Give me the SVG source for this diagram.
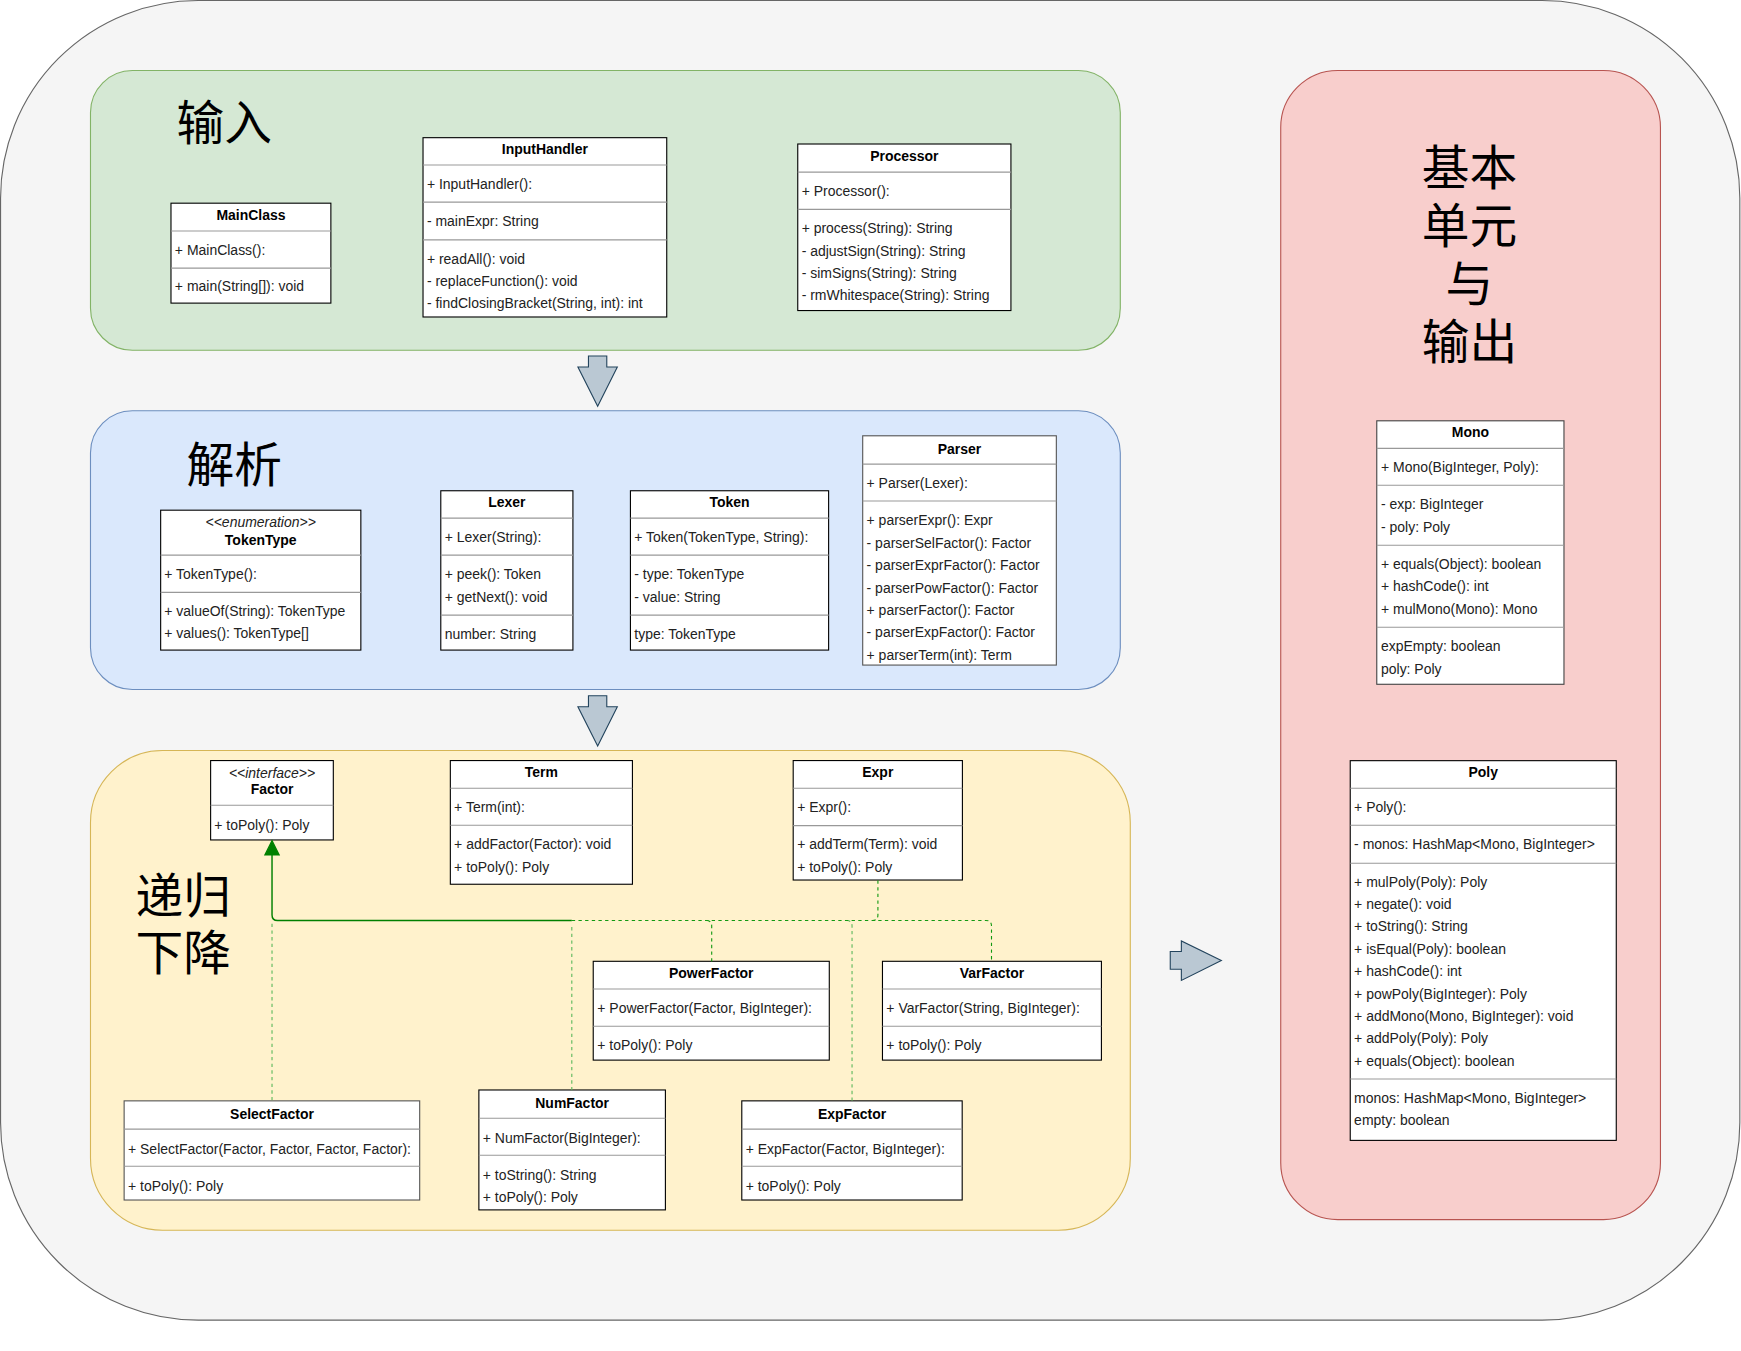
<svg xmlns="http://www.w3.org/2000/svg" width="1741" height="1351" viewBox="0 0 1741 1351">
<defs>
<style>
.box{fill:#ffffff;stroke:#000000;stroke-width:1}
.sep{stroke:#999999;stroke-width:1;fill:none}
.t{font-family:"Liberation Sans",Arial,Helvetica,sans-serif;font-size:12.6px;fill:#222222}
.h{font-weight:bold;text-anchor:middle;fill:#000000}
.st{font-style:italic;text-anchor:middle}
.cjk{font-family:"Noto Sans CJK SC","Noto Sans CJK JP",sans-serif;font-size:43px;fill:#000000}
.blk{fill:#bac8d3;stroke:#23445d;stroke-width:1}
.dk{fill:none;stroke:#119911;stroke-width:1;stroke-dasharray:3 3}
.lt{fill:none;stroke:#5cb85c;stroke-width:1;stroke-dasharray:3 3}
.sol{fill:none;stroke:#008000;stroke-width:1.3}
</style>
</defs>
<g transform="scale(1.1103)">
<g id="frame">
<rect x="0.5" y="0.5" width="1566.5" height="1188.5" rx="178" ry="178" fill="#f5f5f5" stroke="#666666" stroke-width="1"/>
</g>
<g id="panel-input">
<rect x="81.5" y="63.5" width="927.5" height="252" rx="37.8" ry="37.8" fill="#d5e8d4" stroke="#82b366"/>
<text class="cjk" x="159" y="126">输入</text>
</g>
<g id="panel-parse">
<rect x="81.5" y="370" width="927.5" height="251" rx="37.7" ry="37.7" fill="#dae8fc" stroke="#6c8ebf"/>
<text class="cjk" x="168" y="434.5">解析</text>
</g>
<g id="panel-recursive">
<rect x="81.5" y="676" width="936.5" height="432" rx="64.8" ry="64.8" fill="#fff2cc" stroke="#d6b656"/>
<text class="cjk" x="122" y="822"><tspan x="122" y="822">递归</tspan><tspan x="122" y="874">下降</tspan></text>
</g>
<g id="panel-output">
<rect x="1153.5" y="63.5" width="342" height="1035" rx="51.3" ry="51.3" fill="#f8cecc" stroke="#b85450"/>
<text class="cjk" x="1323.5" y="167" text-anchor="middle"><tspan x="1323.5" y="167">基本</tspan><tspan x="1323.5" y="219">单元</tspan><tspan x="1323.5" y="271">与</tspan><tspan x="1323.5" y="323">输出</tspan></text>
</g>
<g id="flow-arrows">
<polygon class="blk" points="530,320.6 546.5,320.6 546.5,330.5 556,330.5 538.3,366 520.5,330.5 530,330.5"/>
<polygon class="blk" points="530,626.6 546.5,626.6 546.5,636.5 556,636.5 538.3,672 520.5,636.5 530,636.5"/>
<polygon class="blk" points="1054,857 1064,857 1064,847.5 1100,865 1064,883 1064,873 1054,873"/>
</g>

<g id="MainClass">
<rect class="box" x="154" y="183" width="144" height="90"/>
<line class="sep" x1="154" y1="208" x2="298" y2="208"/>
<line class="sep" x1="154" y1="241.5" x2="298" y2="241.5"/>
<text class="t h" x="226" y="198">MainClass</text>
<text class="t" x="157.5" y="229.5">+ MainClass():</text>
<text class="t" x="157.5" y="262.5">+ main(String[]): void</text>
</g>

<g id="InputHandler">
<rect class="box" x="381" y="124" width="219.5" height="161.5"/>
<line class="sep" x1="381" y1="148.6" x2="600.5" y2="148.6"/>
<line class="sep" x1="381" y1="182" x2="600.5" y2="182"/>
<line class="sep" x1="381" y1="216" x2="600.5" y2="216"/>
<text class="t h" x="490.7" y="139">InputHandler</text>
<text class="t" x="384.5" y="170.5">+ InputHandler():</text>
<text class="t" x="384.5" y="203.5">- mainExpr: String</text>
<text class="t" x="384.5" y="237.5">+ readAll(): void</text>
<text class="t" x="384.5" y="257.5">- replaceFunction(): void</text>
<text class="t" x="384.5" y="277.5">- findClosingBracket(String, int): int</text>
</g>

<g id="Processor">
<rect class="box" x="718.5" y="129.7" width="192" height="150"/>
<line class="sep" x1="718.5" y1="155" x2="910.5" y2="155"/>
<line class="sep" x1="718.5" y1="188.6" x2="910.5" y2="188.6"/>
<text class="t h" x="814.5" y="145">Processor</text>
<text class="t" x="722" y="176.5">+ Processor():</text>
<text class="t" x="722" y="210">+ process(String): String</text>
<text class="t" x="722" y="230.5">- adjustSign(String): String</text>
<text class="t" x="722" y="250.5">- simSigns(String): String</text>
<text class="t" x="722" y="270">- rmWhitespace(String): String</text>
</g>

<g id="TokenType">
<rect class="box" x="144.7" y="459.5" width="180.3" height="126"/>
<line class="sep" x1="144.7" y1="500" x2="325" y2="500"/>
<line class="sep" x1="144.7" y1="533.5" x2="325" y2="533.5"/>
<text class="t st" x="234.8" y="474.5">&lt;&lt;enumeration&gt;&gt;</text>
<text class="t h" x="234.8" y="490.5">TokenType</text>
<text class="t" x="148" y="521.5">+ TokenType():</text>
<text class="t" x="148" y="554.5">+ valueOf(String): TokenType</text>
<text class="t" x="148" y="574.5">+ values(): TokenType[]</text>
</g>

<g id="Lexer">
<rect class="box" x="397" y="442" width="119" height="143.5"/>
<line class="sep" x1="397" y1="466.7" x2="516" y2="466.7"/>
<line class="sep" x1="397" y1="500" x2="516" y2="500"/>
<line class="sep" x1="397" y1="554" x2="516" y2="554"/>
<text class="t h" x="456.5" y="456.5">Lexer</text>
<text class="t" x="400.5" y="488.5">+ Lexer(String):</text>
<text class="t" x="400.5" y="521.5">+ peek(): Token</text>
<text class="t" x="400.5" y="542">+ getNext(): void</text>
<text class="t" x="400.5" y="575.5">number: String</text>
</g>

<g id="Token">
<rect class="box" x="567.8" y="442" width="178.5" height="143.5"/>
<line class="sep" x1="567.8" y1="466.7" x2="746.3" y2="466.7"/>
<line class="sep" x1="567.8" y1="500" x2="746.3" y2="500"/>
<line class="sep" x1="567.8" y1="554" x2="746.3" y2="554"/>
<text class="t h" x="657" y="456.5">Token</text>
<text class="t" x="571.3" y="488.5">+ Token(TokenType, String):</text>
<text class="t" x="571.3" y="521.5">- type: TokenType</text>
<text class="t" x="571.3" y="542">- value: String</text>
<text class="t" x="571.3" y="575.5">type: TokenType</text>
</g>

<g id="Parser">
<rect class="box" x="777" y="392.5" width="174.4" height="206.5" style="stroke:#555555"/>
<line class="sep" x1="777" y1="418" x2="951.4" y2="418"/>
<line class="sep" x1="777" y1="451.2" x2="951.4" y2="451.2"/>
<text class="t h" x="864.2" y="408.5">Parser</text>
<text class="t" x="780.5" y="439.8">+ Parser(Lexer):</text>
<text class="t" x="780.5" y="472.8">+ parserExpr(): Expr</text>
<text class="t" x="780.5" y="493.8">- parserSelFactor(): Factor</text>
<text class="t" x="780.5" y="513.7">- parserExprFactor(): Factor</text>
<text class="t" x="780.5" y="533.7">- parserPowFactor(): Factor</text>
<text class="t" x="780.5" y="553.9">+ parserFactor(): Factor</text>
<text class="t" x="780.5" y="573.7">- parserExpFactor(): Factor</text>
<text class="t" x="780.5" y="594.4">+ parserTerm(int): Term</text>
</g>

<g id="Factor">
<rect class="box" x="189.7" y="685" width="110.5" height="71.5"/>
<line class="sep" x1="189.7" y1="725.3" x2="300.2" y2="725.3"/>
<text class="t st" x="245" y="700.5">&lt;&lt;interface&gt;&gt;</text>
<text class="t h" x="245" y="715.5">Factor</text>
<text class="t" x="193" y="747.5">+ toPoly(): Poly</text>
</g>

<g id="Term">
<rect class="box" x="405.6" y="685" width="164" height="111.4"/>
<line class="sep" x1="405.6" y1="710" x2="569.6" y2="710"/>
<line class="sep" x1="405.6" y1="743.3" x2="569.6" y2="743.3"/>
<text class="t h" x="487.6" y="700">Term</text>
<text class="t" x="409" y="731.5">+ Term(int):</text>
<text class="t" x="409" y="764.9">+ addFactor(Factor): void</text>
<text class="t" x="409" y="785.5">+ toPoly(): Poly</text>
</g>

<g id="Expr">
<rect class="box" x="714.4" y="685" width="152.4" height="107.6"/>
<line class="sep" x1="714.4" y1="710" x2="866.8" y2="710"/>
<line class="sep" x1="714.4" y1="743.6" x2="866.8" y2="743.6"/>
<text class="t h" x="790.6" y="700">Expr</text>
<text class="t" x="718" y="731.5">+ Expr():</text>
<text class="t" x="718" y="764.9">+ addTerm(Term): void</text>
<text class="t" x="718" y="785.5">+ toPoly(): Poly</text>
</g>

<g id="PowerFactor">
<rect class="box" x="534.3" y="865.8" width="212.6" height="89"/>
<line class="sep" x1="534.3" y1="890.7" x2="746.9" y2="890.7"/>
<line class="sep" x1="534.3" y1="924.3" x2="746.9" y2="924.3"/>
<text class="t h" x="640.6" y="880.8">PowerFactor</text>
<text class="t" x="538" y="912.1">+ PowerFactor(Factor, BigInteger):</text>
<text class="t" x="538" y="945.7">+ toPoly(): Poly</text>
</g>

<g id="VarFactor">
<rect class="box" x="794.8" y="865.8" width="197.2" height="89"/>
<line class="sep" x1="794.8" y1="890.7" x2="992" y2="890.7"/>
<line class="sep" x1="794.8" y1="924.3" x2="992" y2="924.3"/>
<text class="t h" x="893.4" y="880.8">VarFactor</text>
<text class="t" x="798.3" y="912.1">+ VarFactor(String, BigInteger):</text>
<text class="t" x="798.3" y="945.7">+ toPoly(): Poly</text>
</g>

<g id="SelectFactor">
<rect class="box" x="111.8" y="991.5" width="266.2" height="89.3" style="stroke:#555555"/>
<line class="sep" x1="111.8" y1="1017" x2="378" y2="1017"/>
<line class="sep" x1="111.8" y1="1050.4" x2="378" y2="1050.4"/>
<text class="t h" x="245" y="1007.5">SelectFactor</text>
<text class="t" x="115.3" y="1039.5">+ SelectFactor(Factor, Factor, Factor, Factor):</text>
<text class="t" x="115.3" y="1072.5">+ toPoly(): Poly</text>
</g>

<g id="NumFactor">
<rect class="box" x="431.3" y="981.7" width="168" height="108"/>
<line class="sep" x1="431.3" y1="1007.2" x2="599.3" y2="1007.2"/>
<line class="sep" x1="431.3" y1="1040.5" x2="599.3" y2="1040.5"/>
<text class="t h" x="515.3" y="997.5">NumFactor</text>
<text class="t" x="434.8" y="1029.2">+ NumFactor(BigInteger):</text>
<text class="t" x="434.8" y="1062.8">+ toString(): String</text>
<text class="t" x="434.8" y="1082.9">+ toPoly(): Poly</text>
</g>

<g id="ExpFactor">
<rect class="box" x="668.1" y="991.5" width="198.5" height="89.3"/>
<line class="sep" x1="668.1" y1="1017" x2="866.6" y2="1017"/>
<line class="sep" x1="668.1" y1="1050.4" x2="866.6" y2="1050.4"/>
<text class="t h" x="767.4" y="1007.5">ExpFactor</text>
<text class="t" x="671.6" y="1039.5">+ ExpFactor(Factor, BigInteger):</text>
<text class="t" x="671.6" y="1072.5">+ toPoly(): Poly</text>
</g>

<g id="Mono">
<rect class="box" x="1240" y="379" width="168.6" height="237.3" style="stroke:#444444"/>
<line class="sep" x1="1240" y1="403.8" x2="1408.6" y2="403.8"/>
<line class="sep" x1="1240" y1="437.1" x2="1408.6" y2="437.1"/>
<line class="sep" x1="1240" y1="491.1" x2="1408.6" y2="491.1"/>
<line class="sep" x1="1240" y1="565" x2="1408.6" y2="565"/>
<text class="t h" x="1324.3" y="393.9">Mono</text>
<text class="t" x="1243.8" y="425.5">+ Mono(BigInteger, Poly):</text>
<text class="t" x="1243.8" y="458.7">- exp: BigInteger</text>
<text class="t" x="1243.8" y="479.5">- poly: Poly</text>
<text class="t" x="1243.8" y="512.5">+ equals(Object): boolean</text>
<text class="t" x="1243.8" y="532">+ hashCode(): int</text>
<text class="t" x="1243.8" y="553">+ mulMono(Mono): Mono</text>
<text class="t" x="1243.8" y="586.3">expEmpty: boolean</text>
<text class="t" x="1243.8" y="607">poly: Poly</text>
</g>

<g id="Poly">
<rect class="box" x="1216.1" y="685.1" width="239.6" height="342"/>
<line class="sep" x1="1216.1" y1="710" x2="1455.7" y2="710"/>
<line class="sep" x1="1216.1" y1="743.3" x2="1455.7" y2="743.3"/>
<line class="sep" x1="1216.1" y1="777.5" x2="1455.7" y2="777.5"/>
<line class="sep" x1="1216.1" y1="971.8" x2="1455.7" y2="971.8"/>
<text class="t h" x="1335.9" y="700">Poly</text>
<text class="t" x="1219.6" y="731.5">+ Poly():</text>
<text class="t" x="1219.6" y="764.9">- monos: HashMap&lt;Mono, BigInteger&gt;</text>
<text class="t" x="1219.6" y="799.2">+ mulPoly(Poly): Poly</text>
<text class="t" x="1219.6" y="819">+ negate(): void</text>
<text class="t" x="1219.6" y="838.5">+ toString(): String</text>
<text class="t" x="1219.6" y="859.2">+ isEqual(Poly): boolean</text>
<text class="t" x="1219.6" y="879">+ hashCode(): int</text>
<text class="t" x="1219.6" y="899.7">+ powPoly(BigInteger): Poly</text>
<text class="t" x="1219.6" y="919.5">+ addMono(Mono, BigInteger): void</text>
<text class="t" x="1219.6" y="939.4">+ addPoly(Poly): Poly</text>
<text class="t" x="1219.6" y="960.1">+ equals(Object): boolean</text>
<text class="t" x="1219.6" y="993.5">monos: HashMap&lt;Mono, BigInteger&gt;</text>
<text class="t" x="1219.6" y="1013.2">empty: boolean</text>
</g>

<g id="connectors">
<path class="lt" d="M245,991 V829"/>
<path class="lt" d="M515,982 V832"/>
<path class="lt" d="M767.4,991.5 V834 Q767.4,829 762.4,829"/>
<path class="dk" d="M641,866 V834 Q641,829 636,829"/>
<path class="dk" d="M790.7,793 V824 Q790.7,829 785.7,829"/>
<path class="dk" d="M515,829 H888 Q893,829 893,834 V866"/>
<path class="sol" d="M515,829 H250 Q245,829 245,824 V770"/>
<polygon points="245,757 251.5,770 238.5,770" fill="#008000" stroke="#008000" stroke-width="1"/>
</g>
</g>
</svg>
